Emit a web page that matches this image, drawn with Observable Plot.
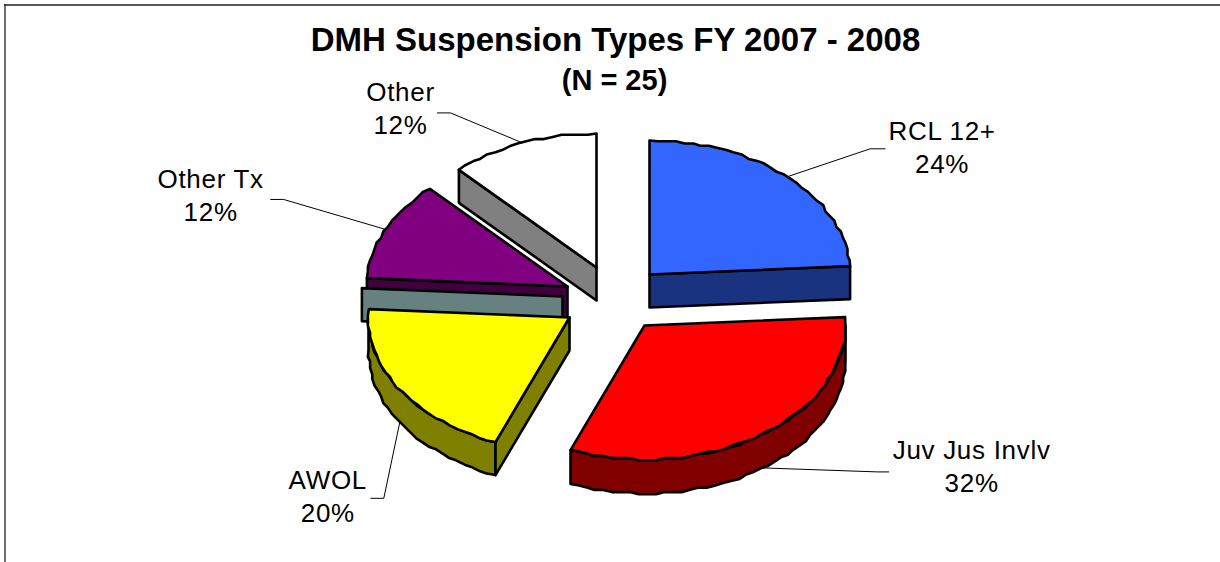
<!DOCTYPE html>
<html><head><meta charset="utf-8">
<script src="https://cdn.jsdelivr.net/npm/d3@7"></script>
<script src="https://cdn.jsdelivr.net/npm/@observablehq/plot@0.6"></script>
<style>html,body{margin:0;padding:0;background:#fff}svg{display:block}
g[aria-label="text"][font-size="26"]{letter-spacing:.7px}</style>
</head><body><div id="chart"></div>
<script>
// Data
const categories = ["RCL 12+", "Juv Jus Invlv", "AWOL", "Other Tx", "Other"];
const percents = [24, 32, 20, 12, 12];
const title = "DMH Suspension Types FY 2007 - 2008";
const subtitle = "(N = 25)";

// Layout / style
const sliceColors = ["#3366ff", "#ff0000", "#ffff00", "#800080", "#ffffff"];
const apexX = [649, 644, 569, 567, 596];
const apexY = [274, 325, 317, 286, 267];
const depths = [33, 34, 33, 34, 33];
const RX = 201, RY = 134, GRID = 2.2, STEP = 2.5;
const drawOrder = [4, 3, 2, 1, 0];
// leader: offsets from the rim point at mid angle (knee, end); label centre offsets
const leaderKnee = [[83, -28], [115, 4], [-16, 76], [-102, -30], [-72, -30]];
const leaderEnd = [[98, -28], [126, 4], [-29, 76], [-115, -30], [-85, -30]];
const labelAt = [[155, -45], [209, -17], [-72, 58], [-175, -50], [-122, -50]];
const labelGap = 33;

const total = d3.sum(percents);
const pie = d3.pie().sort(null).value(d => d)(percents);
const rim = (i, a) => ({
  x: apexX[i] + RX * Math.sin(a),
  y: apexY[i] - RY * Math.cos(a)
});
const q = p => ({x: Math.round(p.x / GRID) * GRID, y: Math.round(p.y / GRID) * GRID});
function arc(i, a0, a1) {
  const n = Math.max(1, Math.round((a1 - a0) * 180 / Math.PI / STEP));
  return d3.range(n + 1).map(k => {
    const p = rim(i, a0 + (a1 - a0) * k / n);
    return (k === 0 || k === n) ? p : q(p);
  });
}
const down = (pts, d) => pts.map(p => ({x: p.x, y: p.y + d}));
const halve = c => { const r = d3.rgb(c); return d3.rgb(r.r / 2, r.g / 2, r.b / 2).formatHex(); };
const face = (pts, fill) => Plot.line(pts, {
  x: "x", y: "y", fill, stroke: "#000", strokeWidth: 2.6,
  strokeLinejoin: "round", curve: "linear-closed"
});

const H = Math.PI / 2, PI = Math.PI, T = 2 * PI;
const marks = [
  Plot.ruleX([4.5], {stroke: "#111", strokeWidth: 1.2, y1: 4, y2: 562}),
  Plot.ruleY([4.5], {stroke: "#222", strokeWidth: 1.4, x1: 4, x2: 1220})
];

// leaders drawn below slices
pie.forEach((s, i) => {
  const mid = (s.startAngle + s.endAngle) / 2;
  const p = rim(i, mid);
  const base = Math.cos(mid) < 0 ? {x: p.x, y: p.y + depths[i]} : p;
  marks.push(Plot.line([
    base,
    {x: base.x + leaderKnee[i][0], y: base.y + leaderKnee[i][1]},
    {x: base.x + leaderEnd[i][0], y: base.y + leaderEnd[i][1]}
  ], {x: "x", y: "y", stroke: "#000", strokeWidth: 1}));
});

drawOrder.forEach(i => {
  const {startAngle: a, endAngle: b} = pie[i];
  const apex = {x: apexX[i], y: apexY[i]}, d = depths[i], dark = halve(sliceColors[i]);
  // outer wall, only where it faces the viewer
  const w0 = Math.max(a, H), w1 = Math.min(b, 1.5 * PI);
  if (w1 > w0) {
    const top = arc(i, w0, w1);
    marks.push(face([...top, ...down(top, d).reverse()], dark));
  }
  // cut faces
  for (const [ang, vis] of [[a, a > PI && a < T], [b, b > 0 && b < PI]]) {
    if (vis) {
      const r = rim(i, ang);
      marks.push(face([apex, r, {x: r.x, y: r.y + d}, {x: apex.x, y: apex.y + d}], dark));
    }
  }
  if (categories[i] === "AWOL") {
    // teal back plate seen behind the AWOL slice
    const r = rim(i, b), sx = -7, sy = -21;
    marks.push(face([
      {x: r.x + sx, y: r.y + sy}, {x: apex.x + sx, y: apex.y + sy},
      {x: apex.x + sx, y: apex.y + sy + d}, {x: r.x + sx, y: r.y + sy + d}
    ], "#678181"));
  }
  marks.push(face([apex, ...arc(i, a, b)], sliceColors[i]));
});

// labels
const font = {fontFamily: "'Liberation Sans', Arial, sans-serif", fill: "#000"};
const labels = pie.map((s, i) => {
  const mid = (s.startAngle + s.endAngle) / 2;
  const p = rim(i, mid);
  const base = Math.cos(mid) < 0 ? {x: p.x, y: p.y + depths[i]} : p;
  return {name: categories[i], pct: percents[i] / total * 100 + "%",
    x: base.x + labelAt[i][0], y: base.y + labelAt[i][1]};
});
marks.push(Plot.text(labels, {x: "x", y: "y", text: "name", fontSize: 26, ...font}));
marks.push(Plot.text(labels, {x: "x", y: d => d.y + labelGap, text: "pct", fontSize: 26, ...font}));
marks.push(Plot.text([{t: title}], {x: () => 615, y: () => 40, text: "t", fontSize: 33, fontWeight: "bold", ...font}));
marks.push(Plot.text([{t: subtitle}], {x: () => 614, y: () => 80, text: "t", fontSize: 29, fontWeight: "bold", ...font}));

const chart = Plot.plot({
  width: 1220, height: 562, margin: 0,
  x: {domain: [0, 1220], range: [0, 1220], axis: null},
  y: {domain: [0, 562], range: [0, 562], axis: null},
  marks
});
document.getElementById("chart").append(chart);
</script></body></html>
